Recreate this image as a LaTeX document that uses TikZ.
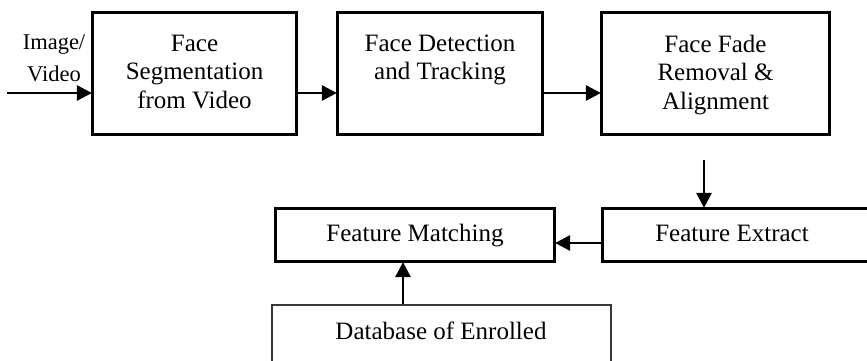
\documentclass[tikz,border=0pt]{standalone}
\usepackage{fontspec}
\setmainfont{Liberation Serif}
\usetikzlibrary{arrows.meta}

\tikzset{
  stagebox/.style={draw=black, line width=3.2pt, inner sep=0pt},
  dbbox/.style={draw=black!78, line width=2pt, inner sep=0pt},
  stagetext/.style={align=center, inner sep=0pt, font=\fontsize{25}{28.5}\selectfont},
  inputtext/.style={align=center, inner sep=0pt, font=\fontsize{22.5}{32}\selectfont},
  flow/.style={line width=2.7pt, -{Triangle[length=15pt,width=15pt]}, shorten >=-1pt}
}

\begin{document}
\begin{tikzpicture}[x=1pt, y=1pt]
  \clip (0,0) rectangle (867,360);

  % top row of processing stages
  \node[stagebox, minimum width=204pt, minimum height=122pt] (seg) at (194.5,286.5) {};
  \node[stagetext, anchor=north] (segtxt) at (194.5,325.5) {Face\\Segmentation\\from Video};

  \node[stagebox, minimum width=205pt, minimum height=122pt] (det) at (440,286.5) {};
  \node[stagetext, anchor=north] (dettxt) at (440,325.5) {Face Detection\\and Tracking};

  \node[stagebox, minimum width=228pt, minimum height=122pt] (fade) at (715.5,286.5) {};
  \node[stagetext, anchor=north] (fadetxt) at (715.5,325.5) {Face Fade\\Removal \&\\Alignment};

  % input label and arrow
  \node[inputtext, anchor=north] (inputtxt) at (54,325.2) {Image/\\Video};
  \coordinate (src) at (7,267);

  % bottom row
  \node[stagebox, minimum width=279pt, minimum height=53pt] (match) at (415,125) {};
  \node[stagetext] (matchtxt) at (415,124) {Feature Matching};

  \node[stagebox, minimum width=300pt, minimum height=53pt] (extract) at (752.5,125) {};
  \node[stagetext] (extracttxt) at (732,127) {Feature Extract};

  \node[dbbox, minimum width=339pt, minimum height=110pt] (db) at (441.5,0) {};
  \node[stagetext] (dbtxt) at (441,29) {Database of Enrolled};

  % connectors
  \coordinate (drop) at (704,200);
  \draw[flow] (src) -- (src -| seg.west);
  \draw[flow] (seg.east |- src) -- (det.west |- src);
  \draw[flow] (det.east |- src) -- (fade.west |- src);
  \draw[flow] (drop) -- (drop |- extract.north);
  \draw[flow] (extract.west |- 0,117) -- (match.east |- 0,117);
  \draw[flow] (db.north -| 403,0) -- (match.south -| 403,0);
\end{tikzpicture}
\end{document}
